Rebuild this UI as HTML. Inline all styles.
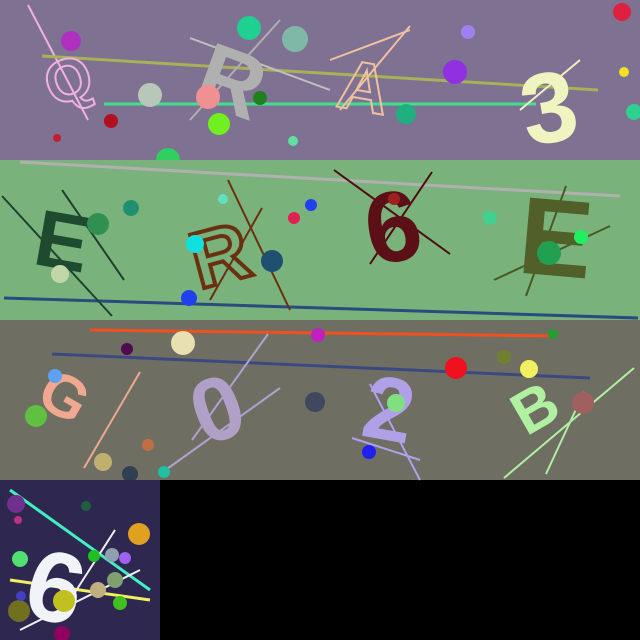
<!DOCTYPE html>
<html><head><meta charset="utf-8"><style>
html,body{margin:0;padding:0;background:#000;width:640px;height:640px;overflow:hidden}
svg{display:block}
text{font-family:"Liberation Sans",sans-serif;font-weight:bold}
</style></head><body>
<svg width="640" height="640" viewBox="0 0 640 640">
<rect x="0" y="0" width="640" height="640" fill="#000"/>
<g>
<rect x="0" y="0" width="640" height="160" fill="#7e7192"/>
<line x1="28" y1="5" x2="88" y2="120" stroke="#f3b0e0" stroke-width="2"/>
<line x1="42" y1="56" x2="598" y2="90" stroke="#a6b258" stroke-width="3"/>
<line x1="104" y1="104" x2="536" y2="104" stroke="#40e090" stroke-width="3"/>
<line x1="190" y1="38" x2="330" y2="90" stroke="#c0c0c0" stroke-width="2"/>
<line x1="280" y1="20" x2="190" y2="120" stroke="#b0b0b0" stroke-width="2"/>
<line x1="330" y1="60" x2="410" y2="30" stroke="#f0c0a0" stroke-width="2"/>
<line x1="340" y1="110" x2="410" y2="26" stroke="#f0c0a0" stroke-width="2"/>
<line x1="520" y1="110" x2="580" y2="60" stroke="#f0f0c0" stroke-width="2"/>
<text x="45" y="100" font-size="60" fill="none" stroke="#f0b0e0" stroke-width="2" transform="rotate(-20 70 80)">Q</text>
<text x="200" y="115" font-size="90" fill="#b0b0b0" transform="rotate(20 240 80)">R</text>
<text x="340" y="112" font-size="70" fill="none" stroke="#f0c0a0" stroke-width="2" transform="rotate(10 370 80)">A</text>
<text x="520" y="140" font-size="100" fill="#f0f4c0" transform="rotate(-10 560 100)">3</text>
<circle cx="249" cy="28" r="12" fill="#20d090"/><circle cx="295" cy="39" r="13" fill="#80b8a8"/>
<circle cx="71" cy="41" r="10" fill="#b030c0"/><circle cx="150" cy="95" r="12" fill="#b8c8b8"/>
<circle cx="208" cy="97" r="12" fill="#f09090"/><circle cx="260" cy="98" r="7" fill="#208020"/>
<circle cx="219" cy="124" r="11" fill="#70f020"/><circle cx="111" cy="121" r="7" fill="#b01020"/>
<circle cx="57" cy="138" r="4" fill="#c02030"/><circle cx="293" cy="141" r="5" fill="#60e0a0"/>
<circle cx="406" cy="114" r="10" fill="#20b080"/><circle cx="455" cy="72" r="12" fill="#9030e0"/>
<circle cx="468" cy="32" r="7" fill="#a080f0"/><circle cx="622" cy="12" r="9" fill="#e02040"/>
<circle cx="624" cy="72" r="5" fill="#f0e020"/><circle cx="634" cy="112" r="8" fill="#30d090"/>
<circle cx="168" cy="160" r="12" fill="#30d060"/>
</g>
<g>
<rect x="0" y="160" width="640" height="160" fill="#79b37b"/>
<line x1="20" y1="162" x2="620" y2="196" stroke="#b0b0b0" stroke-width="3"/>
<line x1="4" y1="298" x2="638" y2="318" stroke="#2a4a80" stroke-width="3"/>
<line x1="2" y1="196" x2="112" y2="316" stroke="#204030" stroke-width="2"/>
<line x1="62" y1="190" x2="124" y2="280" stroke="#204030" stroke-width="2"/>
<line x1="228" y1="180" x2="290" y2="310" stroke="#6a3010" stroke-width="2"/>
<line x1="262" y1="208" x2="210" y2="300" stroke="#6a3010" stroke-width="2"/>
<line x1="334" y1="170" x2="450" y2="254" stroke="#500a10" stroke-width="2"/>
<line x1="432" y1="172" x2="370" y2="264" stroke="#500a10" stroke-width="2"/>
<line x1="494" y1="280" x2="610" y2="226" stroke="#4a5a20" stroke-width="2"/>
<line x1="526" y1="296" x2="566" y2="186" stroke="#4a5a20" stroke-width="2"/>
<text x="36" y="270" font-size="80" fill="#1e4a30" transform="rotate(10 70 240)">E</text>
<text x="190" y="280" font-size="80" fill="none" stroke="#6a3010" stroke-width="4" transform="rotate(-15 230 250)">R</text>
<text x="364" y="260" font-size="100" fill="#5a1016" transform="rotate(-10 400 220)">6</text>
<text x="520" y="276" font-size="110" fill="#506028" transform="rotate(5 560 230)">E</text>
<circle cx="98" cy="224" r="11" fill="#309050"/><circle cx="131" cy="208" r="8" fill="#209070"/>
<circle cx="60" cy="274" r="9" fill="#c0d8a8"/><circle cx="195" cy="244" r="9" fill="#10e0e0"/>
<circle cx="223" cy="199" r="5" fill="#60e0c0"/><circle cx="272" cy="261" r="11" fill="#205070"/>
<circle cx="294" cy="218" r="6" fill="#e02050"/><circle cx="311" cy="205" r="6" fill="#2040f0"/>
<circle cx="394" cy="199" r="6" fill="#a02020"/><circle cx="490" cy="218" r="7" fill="#40d090"/>
<circle cx="549" cy="253" r="12" fill="#20a050"/><circle cx="581" cy="237" r="7" fill="#20f060"/>
<circle cx="189" cy="298" r="8" fill="#2040f0"/>
</g>
<g>
<rect x="0" y="320" width="640" height="160" fill="#6f6e62"/>
<line x1="90" y1="330" x2="556" y2="336" stroke="#f05020" stroke-width="3"/>
<line x1="52" y1="354" x2="590" y2="378" stroke="#3a4a80" stroke-width="3"/>
<line x1="140" y1="372" x2="84" y2="468" stroke="#f0a890" stroke-width="2"/>
<line x1="268" y1="334" x2="192" y2="440" stroke="#b0a0d0" stroke-width="2"/>
<line x1="280" y1="388" x2="160" y2="474" stroke="#b0a0d0" stroke-width="2"/>
<line x1="370" y1="384" x2="420" y2="480" stroke="#b0a0f0" stroke-width="2"/>
<line x1="352" y1="438" x2="420" y2="460" stroke="#b0a0f0" stroke-width="2"/>
<line x1="504" y1="478" x2="634" y2="368" stroke="#b0f0a0" stroke-width="2"/>
<line x1="546" y1="474" x2="584" y2="392" stroke="#b0f0a0" stroke-width="2"/>
<text x="40" y="420" font-size="60" fill="#f0a890" transform="rotate(30 70 400)">G</text>
<text x="190" y="435" font-size="90" fill="#b0a0c8" transform="rotate(-20 230 400)">0</text>
<text x="364" y="442" font-size="90" fill="#b0a0e8" transform="rotate(10 400 410)">2</text>
<text x="510" y="425" font-size="60" fill="#b0f0a0" transform="rotate(-30 540 400)">B</text>
<circle cx="55" cy="376" r="7" fill="#60a0f0"/><circle cx="36" cy="416" r="11" fill="#60c040"/>
<circle cx="127" cy="349" r="6" fill="#500a50"/><circle cx="183" cy="343" r="12" fill="#e8e0b0"/>
<circle cx="318" cy="335" r="7" fill="#c020c0"/><circle cx="148" cy="445" r="6" fill="#c07040"/>
<circle cx="103" cy="462" r="9" fill="#c0b070"/><circle cx="130" cy="474" r="8" fill="#304050"/>
<circle cx="164" cy="472" r="6" fill="#20c0a0"/><circle cx="315" cy="402" r="10" fill="#404860"/>
<circle cx="396" cy="403" r="9" fill="#80e080"/><circle cx="369" cy="452" r="7" fill="#2020f0"/>
<circle cx="456" cy="368" r="11" fill="#f01020"/><circle cx="504" cy="357" r="7" fill="#708030"/>
<circle cx="529" cy="369" r="9" fill="#f0f060"/><circle cx="583" cy="403" r="11" fill="#a06060"/>
<circle cx="553" cy="334" r="5" fill="#20a030"/>
</g>
<g>
<rect x="0" y="480" width="160" height="160" fill="#2e2850"/>
<line x1="10" y1="490" x2="150" y2="590" stroke="#40f0c0" stroke-width="3"/>
<line x1="10" y1="580" x2="150" y2="600" stroke="#f0f060" stroke-width="3"/>
<line x1="20" y1="630" x2="140" y2="570" stroke="#f0f0f0" stroke-width="2"/>
<line x1="70" y1="600" x2="115" y2="530" stroke="#f0f0f0" stroke-width="2"/>
<text x="30" y="625" font-size="100" fill="#f0f4f8" transform="rotate(15 70 580)">6</text>
<circle cx="16" cy="504" r="9" fill="#703090"/><circle cx="18" cy="520" r="4" fill="#c03080"/>
<circle cx="86" cy="506" r="5" fill="#206040"/><circle cx="139" cy="534" r="11" fill="#e0a020"/>
<circle cx="20" cy="559" r="8" fill="#50e070"/><circle cx="94" cy="556" r="6" fill="#20c020"/>
<circle cx="112" cy="555" r="7" fill="#90a0b0"/><circle cx="125" cy="558" r="6" fill="#a060f0"/>
<circle cx="115" cy="580" r="8" fill="#80a070"/><circle cx="98" cy="590" r="8" fill="#c0b080"/>
<circle cx="64" cy="601" r="11" fill="#c0c020"/><circle cx="120" cy="603" r="7" fill="#40c020"/>
<circle cx="19" cy="611" r="11" fill="#707020"/><circle cx="21" cy="596" r="5" fill="#4040c0"/>
<circle cx="62" cy="634" r="8" fill="#900060"/>
</g>
</svg>
</body></html>
